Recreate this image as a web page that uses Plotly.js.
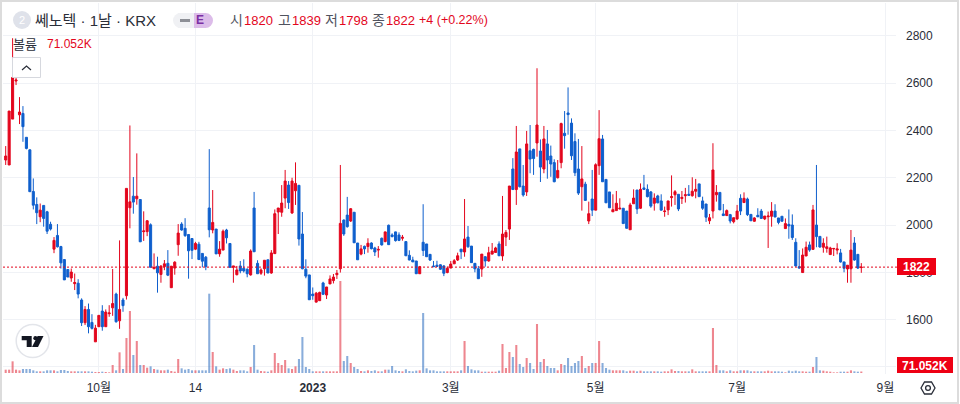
<!DOCTYPE html>
<html><head><meta charset="utf-8">
<script src="https://cdn.plot.ly/plotly-3.0.1.min.js"></script>
<style>html,body{margin:0;padding:0;background:#fff;overflow:hidden}#c{width:960px;height:404px}</style>
</head><body><div id="c"></div>
<script>
const openP = [
2275,2254,2448,2609,2466,2472,2371,2318,2142,2087,
2035,2083,2056,2003,1898,1956,1909,1854,1812,1776,
1752,1754,1683,1587,1643,1588,1506,1570,1636,1570,
1625,1650,1708,1595,1683,1701,2073,2122,2111,2108,
1972,1972,2001,1815,1826,1791,1824,1838,1735,1818,
1917,2004,1986,1960,1943,1898,1919,1880,1864,2072,
1979,1983,1878,1894,1979,1922,1821,1790,1827,1817,
1813,1789,2072,1838,1796,1815,1853,1797,1879,2055,
2054,2114,2169,2051,2145,2168,1962,1813,1789,1708,
1674,1680,1755,1704,1751,1765,1790,1815,2021,2042,
2017,2054,1924,1877,1910,1909,1924,1903,1894,1944,
1930,1999,1958,1971,1958,1944,1930,1872,1852,1848,
1794,1927,1920,1876,1827,1830,1832,1827,1799,1818,
1836,1852,1898,1886,1949,1911,1838,1815,1814,1866,
1848,1877,1884,1920,1869,1949,1983,2237,2150,2322,
2165,2140,2314,2320,2347,2313,2237,2343,2292,2264,
2200,2264,2388,2474,2431,2353,2237,2162,2173,2017,
2110,2063,2251,2364,2193,2140,2056,2061,2068,2071,
2059,1980,2090,2148,2071,2157,2151,2140,2092,2123,
2102,2057,2064,2116,2128,2130,2112,2124,2130,2124,
2143,2174,2102,2089,2018,2059,2128,2138,2047,2040,
2044,2014,2026,2113,2095,2110,2045,2016,2041,2059,
2026,2035,2037,2059,2030,2037,1985,2003,2000,1927,
1824,1799,1869,1916,1897,2000,1952,1906,1901,1875,
1899,1894,1882,1844,1814,1815,1924,1876,1820];
const closeP = [
2292,2482,2624,2613,2478,2416,2324,2141,2084,2052,
2063,2028,1974,1983,1935,1908,1840,1768,1780,1801,
1757,1708,1587,1643,1570,1563,1564,1618,1570,1632,
1628,1668,1591,1643,1659,2155,2098,2097,2122,1929,
1975,2018,1821,1821,1798,1826,1836,1788,1826,1843,
1966,1979,1955,1891,1893,1922,1854,1847,1824,1980,
2011,1878,1898,1974,1946,1821,1827,1810,1806,1806,
1794,1890,1887,1794,1810,1851,1797,1882,2048,2072,
2093,2186,2095,2186,2176,1941,1815,1784,1684,1701,
1712,1715,1707,1738,1772,1780,1796,2007,1962,1993,
2069,1925,1853,1899,1899,1923,1900,1886,1897,1916,
1971,1917,1951,1934,1935,1948,1870,1852,1844,1794,
1824,1892,1866,1852,1824,1825,1813,1796,1817,1835,
1849,1870,1887,1941,1908,1841,1815,1773,1877,1848,
1883,1890,1903,1870,1962,1969,2165,2150,2309,2162,
2127,2343,2279,2281,2423,2245,2364,2275,2258,2183,
2231,2429,2378,2467,2293,2221,2135,2195,2104,2048,
2063,2255,2365,2183,2094,2073,2065,2092,2071,2006,
1986,2085,2114,2068,2151,2151,2120,2080,2114,2094,
2063,2059,2102,2120,2141,2068,2117,2128,2126,2143,
2151,2120,2071,2033,2031,2233,2138,2064,2040,2061,
2017,2031,2059,2059,2113,2044,2018,2030,2035,2028,
2038,2038,2059,2034,2011,2016,2006,1996,1947,1827,
1818,1873,1906,1894,2064,1951,1907,1923,1908,1903,
1901,1899,1844,1817,1830,1894,1852,1818,1822];
const highP = [
2334,2482,2790,2662,2541,2503,2371,2320,2197,2117,
2091,2083,2060,2014,1949,2004,1912,1854,1812,1816,
1795,1771,1690,1657,1668,1623,1578,1618,1661,1643,
1661,1814,1714,1935,1692,2155,2421,2203,2303,2108,
2058,2021,2007,1880,1866,1831,1852,1894,1826,1847,
2004,2012,2029,1960,1943,1929,1929,1880,1869,2321,
2148,1983,1932,1981,1984,1922,1827,1827,1848,1855,
1817,1897,2140,1851,1817,1851,1853,1894,2066,2072,
2169,2233,2186,2200,2265,2168,2055,1855,1789,1736,
1717,1718,1760,1738,1787,1793,1810,2254,2024,2119,
2072,2054,1924,1916,1913,1944,1927,1908,1911,1947,
1972,2002,1965,1972,1969,1958,1930,1893,1866,1848,
1827,2088,1920,1877,1848,1849,1834,1831,1824,1848,
1856,1883,1898,2110,1996,1911,1838,1827,1877,1868,
1908,1924,1908,1931,2123,1979,2165,2283,2419,2322,
2254,2398,2423,2323,2663,2362,2419,2402,2336,2278,
2275,2433,2482,2582,2451,2388,2364,2334,2183,2099,
2233,2261,2486,2381,2193,2140,2130,2144,2113,2071,
2059,2094,2151,2148,2176,2212,2172,2144,2134,2128,
2130,2078,2102,2210,2148,2130,2144,2157,2169,2202,
2195,2174,2120,2089,2047,2346,2169,2138,2089,2066,
2047,2031,2085,2130,2138,2116,2045,2033,2071,2068,
2038,2057,2097,2088,2030,2037,2028,2066,2045,1944,
1894,1901,1930,1930,2085,2254,1952,1944,1951,1908,
1901,1923,1899,1844,1830,1979,1949,1876,1839];
const lowP = [
2254,2254,2448,2592,2427,2352,2320,2141,2066,2004,
2012,1993,1962,1977,1881,1905,1816,1768,1780,1760,
1725,1690,1573,1577,1542,1558,1506,1570,1553,1570,
1612,1616,1587,1561,1633,1685,1986,2048,2086,1929,
1933,1953,1821,1815,1714,1756,1809,1784,1735,1790,
1870,1976,1950,1773,1856,1894,1852,1821,1809,1948,
1965,1878,1866,1894,1922,1821,1756,1787,1796,1799,
1779,1786,1887,1794,1789,1786,1797,1794,1879,1962,
2035,2071,2068,2047,2085,1913,1813,1775,1684,1684,
1672,1679,1704,1687,1751,1753,1772,1799,1954,1989,
2013,1925,1853,1872,1877,1883,1897,1869,1862,1913,
1927,1916,1948,1930,1932,1934,1870,1851,1844,1794,
1793,1869,1865,1848,1824,1824,1810,1784,1796,1818,
1835,1848,1856,1866,1904,1841,1800,1773,1781,1824,
1845,1876,1883,1869,1849,1911,1937,2150,2085,2159,
2120,2123,2219,2212,2289,2182,2219,2196,2204,2181,
2197,2240,2323,2382,2275,2207,2127,2061,2103,2004,
2038,2063,2212,2183,2094,2073,2055,2061,2066,2006,
1986,1979,2090,2047,2068,2148,2117,2073,2061,2092,
2061,2035,2042,2078,2085,2059,2089,2095,2124,2120,
2113,2120,2064,2013,2004,2028,2099,2064,2038,2038,
2007,2007,2021,2042,2095,2038,2018,2014,2033,2027,
2021,1903,1993,2033,2003,2016,1985,1942,1937,1824,
1815,1799,1869,1887,1897,1906,1904,1883,1883,1875,
1869,1876,1841,1800,1756,1756,1849,1814,1798];
const volumeK = [
160,160,560,160,128,192,192,192,128,80,
80,80,128,128,128,80,144,144,96,80,
80,80,80,80,80,64,48,48,64,48,
32,384,128,992,192,1680,2976,864,1536,384,
384,256,320,192,160,128,128,160,96,64,
672,224,160,192,128,128,128,128,128,3808,
1008,320,160,224,192,224,160,96,128,128,
80,288,1344,160,96,80,64,128,960,480,
384,624,224,192,320,672,1728,288,192,80,
80,80,80,80,80,80,80,4416,576,816,
480,288,192,96,80,128,96,128,80,80,
160,160,336,128,96,80,176,96,80,112,
128,2880,224,128,128,80,80,80,80,80,
80,80,128,1536,336,176,128,128,64,64,
64,64,64,112,1392,240,1008,768,1344,432,
288,720,480,192,2352,528,672,336,240,240,
128,432,384,720,336,480,576,816,240,336,
480,480,1536,480,240,160,128,128,128,128,
80,112,112,80,112,80,80,80,80,80,
64,80,80,176,96,96,80,80,80,176,
80,80,80,80,80,2160,384,128,128,80,
128,80,80,128,128,128,80,80,80,80,
80,112,80,80,80,64,32,112,80,112,
80,80,64,64,288,768,128,112,80,64,
32,32,64,64,64,128,80,64,71.052];
const tickDays = [27,55,89,129,171,212,255];
const tickLabels = ["10월","14","<b>2023</b>","3월","5월","7월","9월"];
const priceTicks = [1400,1600,1800,2000,2200,2400,2600,2800];
const priceLabels = ["","1600","1800","2000","2200","2400","2600","2800"];
const lastClose = 1822;

const UP="#e3061d", DOWN="#0f5fcd";
const FONT='"Liberation Sans","Noto Sans CJK KR",sans-serif';
const L=3,R=896,T=3,B=374;
const X=p=>(p-L)/(R-L), Y=p=>(B-p)/(B-T);
const days=openP.map((_,i)=>i);
const P=pts=>pts.map((q,i)=>(i?"L":"M")+X(q[0]).toFixed(5)+" "+Y(q[1]).toFixed(5)).join(" ")+" ";
const pshape=(d,o)=>Object.assign({type:"path",xref:"paper",yref:"paper",path:d,line:{width:0}},o||{});
const box=(x0,y0,x1,y1,o)=>Object.assign({type:"rect",xref:"paper",yref:"paper",x0:X(x0),x1:X(x1),y0:Y(y0),y1:Y(y1),line:{width:0}},o||{});
const circ=(cx,cy,r,o)=>Object.assign({type:"circle",xref:"paper",yref:"paper",x0:X(cx-r),x1:X(cx+r),y0:Y(cy-r),y1:Y(cy+r),line:{width:0}},o||{});
const txt=(text,x,y,size,color,anchor,extra)=>Object.assign({text:text,xref:"paper",yref:"paper",x:X(x),y:Y(y),xanchor:anchor||"left",yanchor:"middle",showarrow:false,font:{family:FONT,size:size,color:color},borderpad:0},extra||{});

const vol={type:"bar",x:days,y:volumeK,yaxis:"y",width:0.6,hoverinfo:"skip",
  marker:{color:days.map(i=>closeP[i]>=openP[i]?"rgba(227,60,75,0.62)":"rgba(40,105,190,0.55)"),line:{width:0}}};
const candles={type:"candlestick",x:days,open:openP,high:highP,low:lowP,close:closeP,yaxis:"y2",whiskerwidth:0,
  increasing:{line:{color:UP,width:1},fillcolor:UP},decreasing:{line:{color:DOWN,width:1},fillcolor:DOWN},hoverinfo:"skip"};

const hexPts=[[921,388],[924.5,382],[931.5,382],[935,388],[931.5,394],[924.5,394]];

const layout={width:960,height:404,margin:{l:L,r:960-R,t:T,b:404-B,pad:0},paper_bgcolor:"#fff",plot_bgcolor:"#fff",showlegend:false,boxgap:0.4,boxgroupgap:0,
  xaxis:{range:[(L-5.7)/3.45,(R-5.7)/3.45],tickmode:"array",tickvals:tickDays,ticktext:tickLabels,showgrid:true,gridcolor:"#f0f2f6",gridwidth:1,zeroline:false,
    rangeslider:{visible:false},ticks:"",showline:false,tickfont:{family:FONT,size:12,color:"#2a2e39"},ticklabelstandoff:5},
  yaxis:{range:[-48,17760],visible:false,fixedrange:true},
  yaxis2:{overlaying:"y",side:"right",range:[1370,2939],tickmode:"array",tickvals:priceTicks,ticktext:priceLabels,showgrid:true,gridcolor:"#f0f2f6",zeroline:false,ticks:"",showline:false,
    tickfont:{family:FONT,size:12,color:"#2a2e39"},ticklabelstandoff:9},
  shapes:[
    {type:"line",xref:"paper",yref:"y2",x0:0,x1:X(897),y0:lastClose,y1:lastClose,line:{color:"#e3061d",width:1,dash:"2px,2px"}},
    box(1,1,958,403,{fillcolor:"rgba(0,0,0,0)",line:{color:"#dcdcdc",width:2}}),
    circ(22,20,9,{fillcolor:"#dfe2ea"}),
    box(178,13,197,28,{fillcolor:"#f0f1f4"}),circ(180.5,20.5,7.5,{fillcolor:"#f0f1f4"}),
    box(180,19,190,22,{fillcolor:"#8d8f96"}),
    box(194,13,206,28,{fillcolor:"#dcbce9"}),circ(205.5,20.5,7.5,{fillcolor:"#dcbce9"}),
    {type:"rect",xref:"paper",yref:"paper",x0:X(12.5),x1:X(40.5),y0:Y(57.5),y1:Y(77.5),fillcolor:"#fff",line:{color:"#d6d8de",width:1}},
    pshape(P([[22,70],[26.5,66],[31,70]]),{line:{color:"#2a2e39",width:1.2}}),
    circ(32.7,341,16.5,{fillcolor:"#fff",line:{color:"#e3e5ea",width:1.5}}),
    pshape(P([[21.7,336],[31.7,336],[31.7,347],[26.7,347],[26.7,340.2],[21.7,340.2]])+"Z",{fillcolor:"#131722"}),
    circ(35.4,338.2,2.1,{fillcolor:"#131722"}),
    pshape(P([[37.6,336],[43.5,336],[38,347],[32,347]])+"Z",{fillcolor:"#131722"}),
    box(897,258,936,275,{fillcolor:"#ee0014"}),
    box(897,357,953,373,{fillcolor:"#ee0014"}),
    pshape(P(hexPts)+"Z",{line:{color:"#2a2e39",width:1.3}}),
    circ(928,388,2.4,{fillcolor:"rgba(0,0,0,0)",line:{color:"#2a2e39",width:1.3}})
  ],
  annotations:[
    txt("2",22,20.5,11,"#fff","center"),
    txt("쎄노텍 · 1날 · KRX",34,20,15,"#2a2e39"),
    txt("<b>E</b>",200,20.5,12,"#7b2fa3","center"),
    txt("시",229,20,14,"#50535e"),txt("1820",243,20.5,13,"#e3061d"),
    txt("고",277,20,14,"#50535e"),txt("1839",291,20.5,13,"#e3061d"),
    txt("저",324,20,14,"#50535e"),txt("1798",338,20.5,13,"#e3061d"),
    txt("종",371,20,14,"#50535e"),txt("1822",385,20.5,13,"#e3061d"),
    txt("+4 (+0.22%)",418,20.5,12.5,"#e3061d"),
    txt("볼륨",12,44,13,"#2a2e39"),txt("71.052K",46,44,12,"#e3061d"),
    txt("<b>1822</b>",916.5,266.5,12,"#fff","center"),
    txt("<b>71.052K</b>",925,365.5,12,"#fff","center")
  ]};
Plotly.newPlot("c",[vol,candles],layout,{staticPlot:true,displayModeBar:false});
</script></body></html>
